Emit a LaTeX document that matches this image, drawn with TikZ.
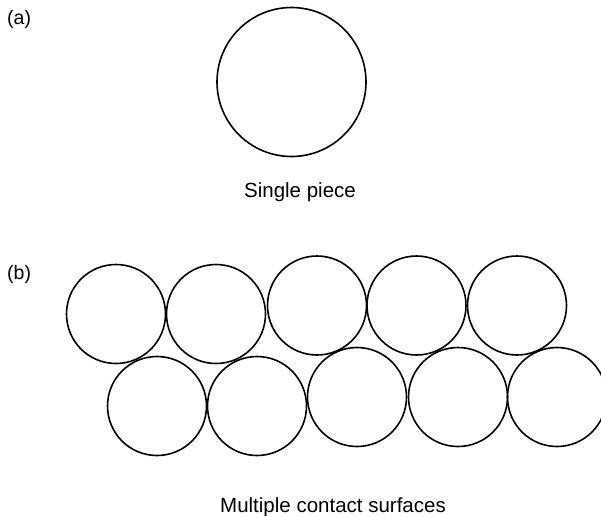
\documentclass[tikz,border=0pt]{standalone}
\usepackage{fontspec}
\setmainfont{Liberation Sans}
\begin{document}
\begin{tikzpicture}[x=1pt,y=-1pt,
  ball/.style={draw=black,line width=1.6pt,circle,inner sep=0pt,minimum size=99pt},
  bigball/.style={draw=black,line width=1.6pt,circle,inner sep=0pt,minimum size=149pt},
  caption/.style={inner sep=0pt,anchor=base,font=\fontsize{20.5}{24}\selectfont},
  tag/.style={inner sep=0pt,anchor=base west,font=\fontsize{19.5}{23}\selectfont}]
\useasboundingbox (0,0) rectangle (601,515);
\clip (0,0) rectangle (601,515);
% (a)
\node[tag] (la) at (7,24) {(a)};
\node[bigball] (single) at (291.5,82) {};
\node[caption] (single-cap) at (300,197) {Single piece};
% (b)
\node[tag] (lb) at (7,279) {(b)};
\node[ball] (r1a) at (116,314) {};
\node[ball] (r1b) at (216,314) {};
\node[ball] (r1c) at (317,305.5) {};
\node[ball] (r1d) at (416.5,305.5) {};
\node[ball] (r1e) at (517,305.5) {};
\node[ball] (r2a) at (157,406) {};
\node[ball] (r2b) at (257,406) {};
\node[ball] (r2c) at (357,397) {};
\node[ball] (r2d) at (458,397) {};
\node[ball] (r2e) at (557,397) {};
\node[caption] (multi-cap) at (333,512) {Multiple contact surfaces};
\end{tikzpicture}
\end{document}
